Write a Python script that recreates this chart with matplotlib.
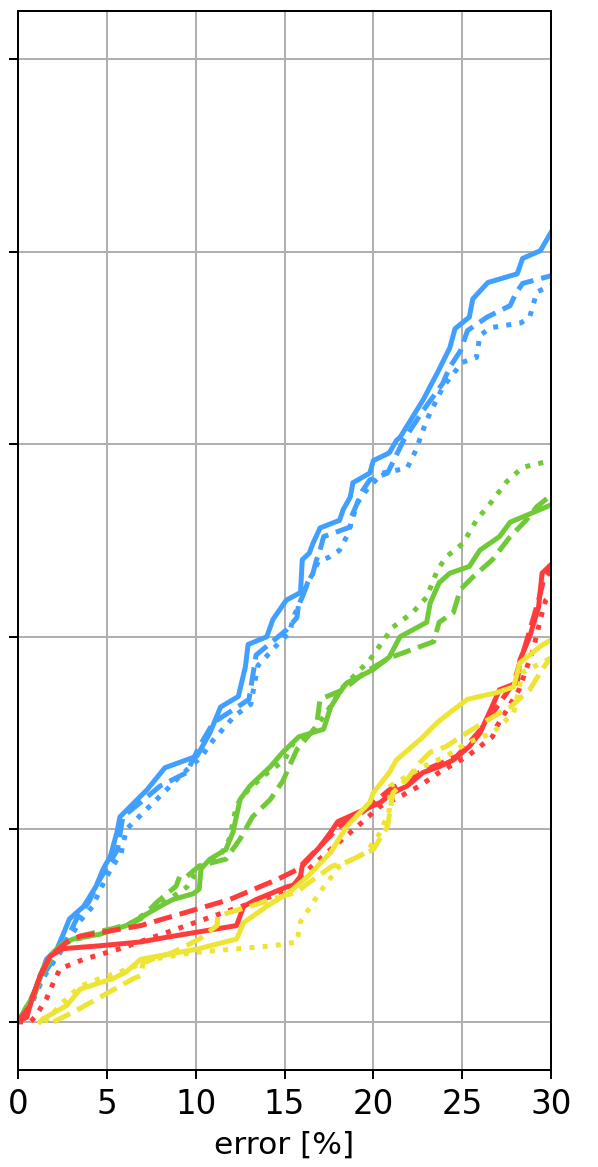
import matplotlib
matplotlib.use("Agg")
import matplotlib.pyplot as plt

# colours per method
blue = "#409fff"
green = "#70c936"
red = "#ff3b3b"
yellow = "#eee434"

# cumulative share of cases vs error [%]
blue_solid_x = [0, 0.68, 1.24, 1.6, 2.2, 2.5, 2.9, 3.7, 4.4, 4.8, 5.2, 5.57, 5.74, 7.26, 8.27, 10.07, 10.8, 11.4,
                12.4, 12.8, 12.95, 14.0, 14.35, 15.1, 15.9, 16.0, 16.4, 16.6, 17.0, 18.1, 18.3, 18.7, 18.85, 19.8,
                20.0, 20.9, 21.3, 21.5, 22.8, 23.6, 24.3, 24.6, 25.4, 25.6, 26.45, 28.1, 28.4, 29.4, 30]
blue_solid_y = [0, 0.021, 0.045, 0.065, 0.076, 0.089, 0.107, 0.12, 0.141, 0.159, 0.172, 0.197, 0.213, 0.241, 0.264,
                0.276, 0.30, 0.327, 0.338, 0.369, 0.392, 0.40, 0.418, 0.438, 0.446, 0.48, 0.487, 0.497, 0.513, 0.521,
                0.532, 0.545, 0.56, 0.57, 0.583, 0.591, 0.604, 0.607, 0.646, 0.674, 0.700, 0.720, 0.732, 0.751, 0.768,
                0.777, 0.793, 0.801, 0.82]

blue_dash_x = [0, 0.7, 1.3, 2.0, 2.75, 3.3, 4.0, 4.5, 5.0, 5.6, 5.9, 6.9, 8.0, 9.5, 10.2, 11.0, 12.1, 13.0, 13.4,
               15.1, 15.7, 15.8, 16.0, 16.3, 16.6, 16.8, 17.0, 17.2, 17.95, 18.7, 18.75, 19.1, 19.4, 19.8, 20.8, 21.7,
               22.8, 23.9, 24.3, 24.9, 25.3, 26.4, 27.7, 28.0, 28.4, 30]
blue_dash_y = [0, 0.02, 0.045, 0.065, 0.086, 0.107, 0.125, 0.145, 0.16, 0.179, 0.213, 0.228, 0.245, 0.259, 0.286,
               0.311, 0.324, 0.335, 0.381, 0.407, 0.42, 0.435, 0.441, 0.456, 0.466, 0.48, 0.49, 0.504, 0.509, 0.514,
               0.524, 0.539, 0.552, 0.563, 0.57, 0.604, 0.635, 0.663, 0.68, 0.697, 0.718, 0.732, 0.744, 0.756,
               0.767, 0.775]

blue_dot_x = [0, 0.8, 1.4, 2.1, 2.9, 3.5, 4.2, 4.7, 5.2, 5.8, 6.1, 7.3, 8.3, 9.1, 10.3, 11.0, 12.2, 13.1, 13.5,
              14.5, 15.3, 15.5, 15.7, 16.3, 16.6, 16.9, 17.55, 18.1, 18.5, 18.85, 19.1, 19.6, 20.5, 21.3, 21.9,
              22.4, 23.0, 23.9, 25.0, 25.8, 26.0, 26.6, 28.3, 28.8, 29.2, 30]
blue_dot_y = [0, 0.02, 0.045, 0.065, 0.086, 0.105, 0.12, 0.14, 0.158, 0.175, 0.2, 0.222, 0.24, 0.255, 0.275, 0.293,
              0.318, 0.33, 0.37, 0.39, 0.405, 0.421, 0.428, 0.456, 0.466, 0.478, 0.483, 0.49, 0.504, 0.524, 0.539,
              0.552, 0.57, 0.573, 0.575, 0.594, 0.625, 0.659, 0.685, 0.69, 0.713, 0.721, 0.726, 0.732, 0.758, 0.765]

green_solid_x = [0, 0.85, 1.4, 1.8, 2.5, 3.1, 4.6, 6.1, 7.05, 8.0, 8.7, 9.85, 10.2, 10.3, 10.8, 11.7, 12.1, 12.5,
                 13.05, 14.2, 14.9, 15.8, 17.2, 17.6, 18.1, 18.5, 20.0, 20.9, 21.5, 23.0, 23.2, 23.7, 24.3, 25.4,
                 26.0, 27.1, 27.7, 28.6, 30]
green_solid_y = [0, 0.027, 0.055, 0.068, 0.081, 0.086, 0.091, 0.10, 0.11, 0.12, 0.127, 0.133, 0.138, 0.159, 0.169,
                 0.179, 0.197, 0.231, 0.245, 0.265, 0.28, 0.296, 0.304, 0.327, 0.342, 0.352, 0.366, 0.379, 0.40,
                 0.415, 0.435, 0.456, 0.466, 0.473, 0.49, 0.504, 0.519, 0.526, 0.537]

green_dash_x = [0, 0.9, 1.5, 2.0, 2.7, 3.5, 4.6, 6.1, 6.9, 7.8, 8.9, 9.1, 9.5, 10.2, 11.7, 12.5, 13.2, 14.2, 14.9,
                15.7, 16.8, 17.0, 18.3, 19.6, 20.9, 23.4, 23.7, 24.5, 24.9, 25.6, 26.7, 27.7, 28.6, 29.2, 30]
green_dash_y = [0, 0.027, 0.055, 0.07, 0.082, 0.089, 0.094, 0.10, 0.107, 0.124, 0.141, 0.151, 0.151, 0.162, 0.169,
                0.19, 0.213, 0.231, 0.25, 0.283, 0.307, 0.335, 0.345, 0.364, 0.378, 0.395, 0.415, 0.425, 0.449,
                0.462, 0.48, 0.504, 0.521, 0.535, 0.547]

green_dot_x = [0, 0.9, 1.5, 2.0, 2.8, 4.6, 6.3, 7.2, 8.3, 9.5, 10.2, 11.3, 11.9, 12.3, 13.0, 14.0, 15.0, 15.5, 16.5,
               17.2, 18.3, 19.8, 21.1, 22.2, 23.0, 23.6, 24.1, 25.05, 25.8, 26.6, 27.5, 28.4, 30]
green_dot_y = [0, 0.03, 0.058, 0.072, 0.083, 0.093, 0.102, 0.113, 0.125, 0.14, 0.16, 0.17, 0.19, 0.225, 0.242,
               0.258, 0.272, 0.29, 0.30, 0.317, 0.348, 0.376, 0.41, 0.425, 0.441, 0.469, 0.483, 0.497, 0.521, 0.539,
               0.561, 0.576, 0.583]

red_solid_x = [0, 0.5, 0.68, 1.24, 1.8, 2.5, 4.6, 6.9, 8.4, 11.0, 12.3, 12.7, 13.4, 15.1, 15.5, 15.9, 16.0, 17.0,
               17.6, 18.0, 19.2, 20.4, 21.1, 21.9, 22.8, 23.7, 24.5, 25.4, 26.0, 26.6, 27.1, 28.1, 28.25, 28.8,
               29.3, 29.5, 30]
red_solid_y = [0, 0.005, 0.017, 0.048, 0.068, 0.076, 0.079, 0.083, 0.088, 0.096, 0.10, 0.12, 0.127, 0.14, 0.142,
               0.151, 0.162, 0.182, 0.197, 0.208, 0.218, 0.228, 0.238, 0.245, 0.259, 0.265, 0.272, 0.286, 0.30,
               0.324, 0.345, 0.352, 0.376, 0.40, 0.431, 0.466, 0.475]

red_dash_x = [0, 0.6, 1.2, 1.8, 2.75, 3.5, 6.9, 9.5, 11.9, 14.6, 15.7, 17.4, 18.1, 19.4, 20.9, 22.6, 24.7, 25.4,
              26.2, 26.95, 27.9, 28.6, 29.3, 29.6, 30]
red_dash_y = [0, 0.015, 0.045, 0.068, 0.083, 0.089, 0.10, 0.114, 0.127, 0.148, 0.158, 0.19, 0.203, 0.218, 0.241,
              0.259, 0.276, 0.29, 0.307, 0.327, 0.352, 0.394, 0.438, 0.46, 0.469]

red_dot_x = [0, 0.7, 1.0, 1.6, 2.0, 2.36, 3.7, 5.74, 8.4, 12.1, 14.35, 15.5, 15.9, 17.4, 19.1, 20.4, 21.5, 22.6,
             23.7, 25.3, 26.7, 26.95, 28.2, 29.0, 29.4, 29.7, 30]
red_dot_y = [0, 0.0, 0.006, 0.024, 0.041, 0.055, 0.065, 0.076, 0.093, 0.117, 0.131, 0.141, 0.151, 0.176, 0.203,
             0.224, 0.234, 0.245, 0.259, 0.276, 0.296, 0.307, 0.345, 0.387, 0.418, 0.438, 0.444]

yellow_solid_x = [1.24, 1.4, 2.75, 3.5, 5.35, 6.1, 6.9, 10.2, 10.8, 12.3, 12.7, 14.0, 15.3, 16.3, 17.6, 18.5, 19.8,
                  20.0, 20.9, 21.3, 22.8, 23.6, 24.5, 25.3, 26.95, 27.9, 28.25, 29.4, 30]
yellow_solid_y = [0, 0.003, 0.017, 0.034, 0.045, 0.052, 0.065, 0.076, 0.079, 0.086, 0.103, 0.12, 0.135, 0.151,
                  0.176, 0.203, 0.228, 0.238, 0.259, 0.272, 0.296, 0.311, 0.324, 0.335, 0.342, 0.348, 0.373, 0.39,
                  0.397]

yellow_dash_x = [2.0, 3.1, 6.5, 6.9, 7.05, 8.7, 10.2, 11.2, 11.25, 13.05, 15.7, 16.4, 17.7, 18.5, 20.0, 20.8, 21.1,
                 21.9, 22.6, 23.2, 24.1, 24.9, 26.2, 27.7, 28.8, 29.5, 30]
yellow_dash_y = [0, 0.01, 0.045, 0.048, 0.062, 0.072, 0.086, 0.10, 0.11, 0.12, 0.135, 0.145, 0.162, 0.166, 0.179,
                 0.203, 0.238, 0.252, 0.269, 0.28, 0.286, 0.296, 0.311, 0.327, 0.345, 0.366, 0.379]

yellow_dot_x = [1.5, 2.5, 3.5, 4.6, 5.74, 7.6, 9.85, 14.35, 15.7, 15.9, 17.0, 18.1, 19.6, 20.4, 20.9, 20.95, 22.8,
                24.1, 25.3, 26.7, 27.9, 28.4, 30]
yellow_dot_y = [0, 0.02, 0.037, 0.045, 0.052, 0.065, 0.072, 0.079, 0.083, 0.104, 0.135, 0.162, 0.176, 0.197, 0.22,
                0.245, 0.265, 0.276, 0.29, 0.30, 0.321, 0.363, 0.378]

series = [
    (blue_solid_x, blue_solid_y, blue, "-"),
    (blue_dash_x, blue_dash_y, blue, "--"),
    (blue_dot_x, blue_dot_y, blue, ":"),
    (green_solid_x, green_solid_y, green, "-"),
    (green_dash_x, green_dash_y, green, "--"),
    (green_dot_x, green_dot_y, green, ":"),
    (red_solid_x, red_solid_y, red, "-"),
    (red_dash_x, red_dash_y, red, "--"),
    (red_dot_x, red_dot_y, red, ":"),
    (yellow_solid_x, yellow_solid_y, yellow, "-"),
    (yellow_dash_x, yellow_dash_y, yellow, "--"),
    (yellow_dot_x, yellow_dot_y, yellow, ":"),
]

dpi = 180
fig = plt.figure(figsize=(598 / dpi, 1167 / dpi), dpi=dpi)
ax = fig.add_axes([18 / 598, 1 - 1070 / 1167, 533 / 598, 1059 / 1167])

for x, y, c, ls in series:
    ax.plot(x, y, color=c, linestyle=ls, linewidth=2)

ax.set_xlim(0, 30)
ax.set_ylim(-0.05, 1.05)
ax.set_xticks([0, 5, 10, 15, 20, 25, 30])
ax.set_yticks([0, 0.2, 0.4, 0.6, 0.8, 1.0])
ax.tick_params(labelleft=False)
ax.tick_params(axis="x", labelsize=13)
ax.set_xlabel("error [%]", fontsize=12.5)
ax.grid(True)
ax.set_axisbelow(True)

fig.savefig("out.png", dpi=dpi)
